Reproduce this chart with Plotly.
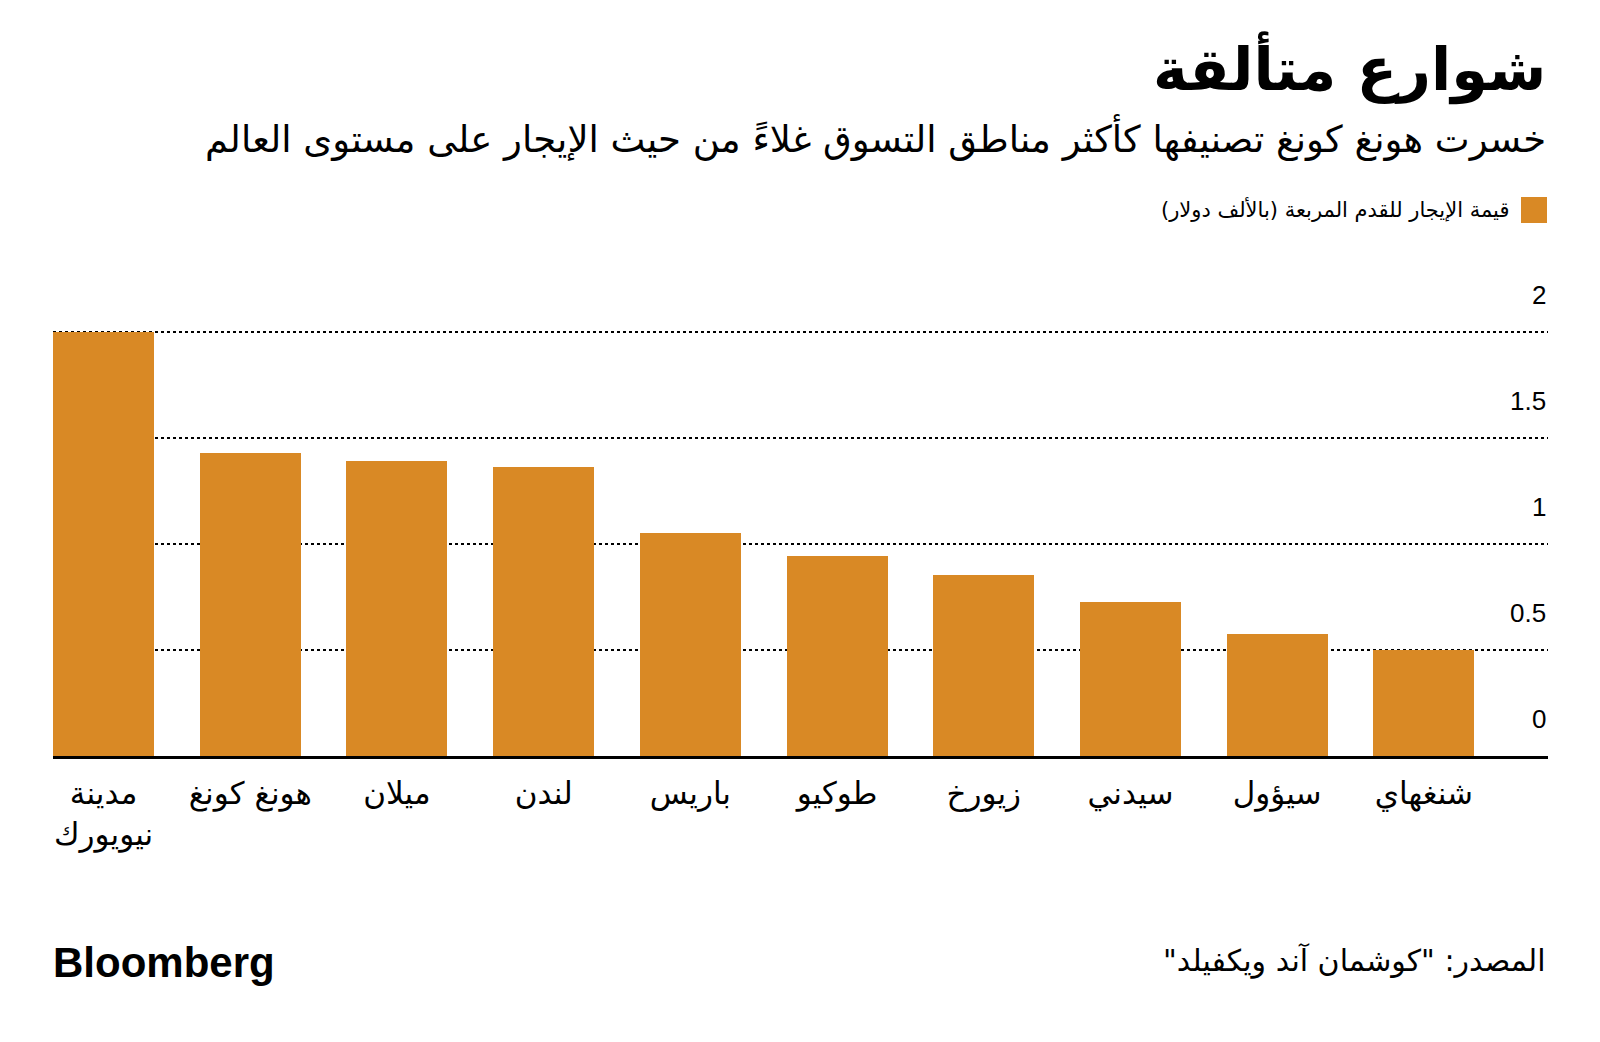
import plotly.graph_objects as go

cities = ["مدينة<br>نيويورك", "هونغ كونغ", "ميلان", "لندن", "باريس", "طوكيو", "زيورخ", "سيدني", "سيؤول", "شنغهاي"]
values = [2.0, 1.43, 1.39, 1.365, 1.05, 0.945, 0.855, 0.725, 0.575, 0.5]
y_ticks = [0, 0.5, 1, 1.5, 2]
y_tick_labels = ["0", "0.5", "1", "1.5", "2"]

title = "شوارع متألقة"
subtitle = "خسرت هونغ كونغ تصنيفها كأكثر مناطق التسوق غلاءً من حيث الإيجار على مستوى العالم"
legend_label = "قيمة الإيجار للقدم المربعة (بالألف دولار)"
source = "المصدر: \"كوشمان آند ويكفيلد\""

def rtl(s):
    return "\u202b" + s + "\u202c"

BAR = "#D98925"
AR_FONT = "DejaVu Sans, Noto Sans, sans-serif"
NUM_FONT = "Liberation Sans, Arial, sans-serif"

OFF = 8  # page body margin
W, H = 1600, 1042
L, R, T, B = 45, 60, 322, 294

fig = go.Figure()
fig.add_trace(go.Bar(x=list(range(len(cities))), y=values, marker_color=BAR,
                     marker_line_width=0, width=0.689, showlegend=False))

fig.update_layout(
    width=W, height=H,
    margin=dict(l=L, r=R, t=T, b=B, pad=0),
    paper_bgcolor="white", plot_bgcolor="white",
    xaxis=dict(
        range=[-0.3445, 9.846],
        tickmode="array", tickvals=list(range(len(cities))), ticktext=[rtl(c) for c in cities],
        ticks="outside", ticklen=8, tickcolor="rgba(0,0,0,0)",
        tickfont=dict(family=AR_FONT, size=31, color="black"),
        showline=True, linecolor="black", linewidth=3,
        showgrid=False, zeroline=False, fixedrange=True,
    ),
    yaxis=dict(
        range=[0, 2.01], tickmode="array", tickvals=[0.5, 1, 1.5, 2],
        showticklabels=False, ticks="",
        showgrid=True, gridcolor="black", gridwidth=1.5, griddash="dot",
        zeroline=False, showline=False, fixedrange=True,
    ),
    bargap=0,
)

def py(pix):
    return (H - B - (pix - OFF)) / (H - T - B)

def px(pix):
    return (pix - OFF - L) / (W - L - R)

for v, lab in zip(y_ticks, y_tick_labels):
    fig.add_annotation(x=1, xref="paper", y=v, yref="y", text=lab, showarrow=False,
                       xanchor="right", yanchor="bottom", yshift=20,
                       font=dict(family=NUM_FONT, size=26, color="black"))

fig.add_annotation(x=1, xref="paper", y=py(68), yref="paper", text=f"<b>{rtl(title)}</b>",
                   showarrow=False, xanchor="right", yanchor="middle",
                   font=dict(family=AR_FONT, size=59, color="black"))
fig.add_annotation(x=1, xref="paper", y=py(138), yref="paper", text=rtl(subtitle),
                   showarrow=False, xanchor="right", yanchor="middle",
                   font=dict(family=AR_FONT, size=37, color="black"))

fig.add_shape(type="rect", xref="paper", yref="paper",
              x0=px(1521), x1=px(1547), y0=py(223), y1=py(197),
              fillcolor=BAR, line_width=0)
fig.add_annotation(x=px(1511), xref="paper", y=py(210), yref="paper", text=rtl(legend_label),
                   showarrow=False, xanchor="right", yanchor="middle",
                   font=dict(family=AR_FONT, size=21, color="black"))

fig.add_annotation(x=px(51), xref="paper", y=py(962), yref="paper",
                   text="<b>Bloomberg</b>",
                   showarrow=False, xanchor="left", yanchor="middle",
                   font=dict(family=NUM_FONT, size=42, color="black"))
fig.add_annotation(x=1, xref="paper", y=py(961), yref="paper", text=rtl(source),
                   showarrow=False, xanchor="right", yanchor="middle",
                   font=dict(family=AR_FONT, size=30, color="black"))

fig.write_html("out.html")
